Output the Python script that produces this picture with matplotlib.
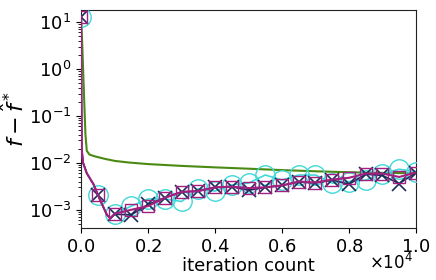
import matplotlib
matplotlib.use("Agg")
import matplotlib.pyplot as plt
import numpy as np

# green curve (no markers)
it_green = [0, 30, 60, 100, 130, 170, 250, 400, 700, 1000, 1400, 2000, 3000,
            4000, 5000, 6000, 7000, 8000, 9000, 10000]
f_green = [13, 4.0, 1.0, 0.15, 0.04, 0.018, 0.015, 0.0138, 0.0122, 0.0110,
           0.0102, 0.0094, 0.0086, 0.0080, 0.0075, 0.0070, 0.0066, 0.0063,
           0.0061, 0.0060]

# iterations for the three marked curves
it_mk = [0, 10, 20, 60, 170, 370, 500, 570, 770, 870, 1000, 1500, 2000,
         2500, 3000, 3500, 4000, 4500, 5000, 5500, 6000, 6500, 7000, 7500,
         8000, 8500, 9000, 9500, 10000]

# magenta curve (squares)
f_mag = [13, 0.3, 0.019, 0.010, 0.006, 0.0035, 0.0021, 0.0016, 0.00078,
         0.00066, 0.00082, 0.0010, 0.0012, 0.0018, 0.0024, 0.0025, 0.0030,
         0.0031, 0.0029, 0.0030, 0.0033, 0.0040, 0.0038, 0.0044, 0.0048,
         0.0059, 0.0059, 0.0050, 0.0062]

# navy curve (x markers)
f_navy = [13, 0.3, 0.019, 0.010, 0.006, 0.0035, 0.0021, 0.0016, 0.00078,
          0.00066, 0.00080, 0.00078, 0.0013, 0.0018, 0.0024, 0.0025, 0.0030,
          0.0031, 0.0026, 0.0030, 0.0033, 0.0039, 0.0037, 0.0043, 0.0035,
          0.0057, 0.0054, 0.0036, 0.0062]

# cyan curve (circles)
f_cyan = [13, 0.3, 0.019, 0.010, 0.006, 0.0035, 0.0021, 0.0016, 0.00078,
          0.00066, 0.00080, 0.0012, 0.0017, 0.0017, 0.0015, 0.0028, 0.0025,
          0.0034, 0.0037, 0.0055, 0.0043, 0.0055, 0.0055, 0.0037, 0.0040,
          0.0043, 0.0059, 0.0073, 0.0065]

mk_idx = [i for i, t in enumerate(it_mk) if t % 500 == 0]

plt.rcParams['font.family'] = ['DejaVu Sans']
fig, ax = plt.subplots(figsize=(4.36, 2.8), dpi=100)
fig.subplots_adjust(left=0.186, right=0.954, top=0.964, bottom=0.186)

ax.plot(it_green, f_green, color='#4a8a12', lw=1.5, zorder=3)
ax.plot(it_mk, f_cyan, color='#40d8d8', lw=1.2, marker='o', ms=14,
        mfc='none', mec='#40d8d8', mew=1.0, markevery=mk_idx, zorder=4)
ax.plot(it_mk, f_navy, color='#1a2d5c', lw=1.2, marker='x', ms=10,
        mew=1.2, markevery=mk_idx, zorder=5)
ax.plot(it_mk, f_mag, color='#a3207f', lw=1.5, marker='s', ms=9,
        mfc='none', mec='#a3207f', mew=1.0, markevery=mk_idx, zorder=6)

ax.set_yscale('log')
ax.set_xlim(0, 10000)
ax.set_ylim(4.1e-4, 18)
ax.set_xticks([0, 2000, 4000, 6000, 8000, 10000])
ax.ticklabel_format(axis='x', style='sci', scilimits=(0, 0), useMathText=True)
ax.xaxis.get_offset_text().set_visible(False)
ax.text(0.99, -0.16, r'$\times10^{4}$', transform=ax.transAxes,
        ha='right', va='center', fontsize=12)
ax.tick_params(labelsize=13)
ax.set_xlabel('iteration count', fontsize=13, labelpad=1)
ax.set_ylabel(r'$f - \hat{f}^*$', fontsize=16)
ax.yaxis.set_label_coords(-0.16, 0.5)
for s in ax.spines.values():
    s.set_color('#222222')

fig.savefig('out.png', dpi=100)
